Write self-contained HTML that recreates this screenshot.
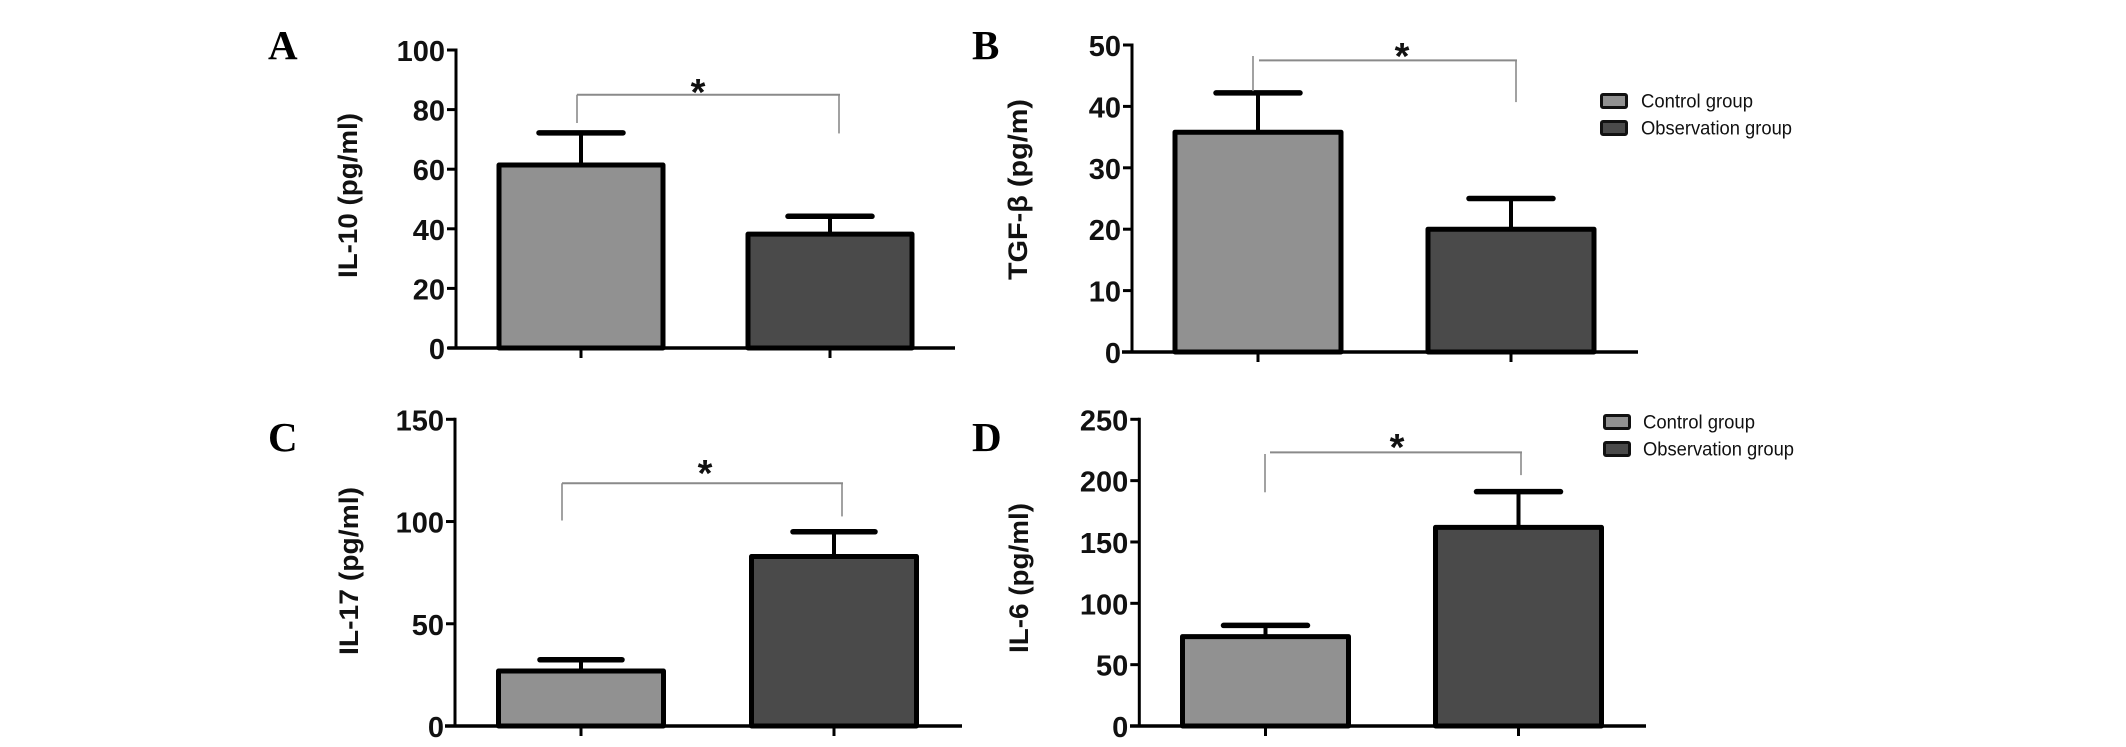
<!DOCTYPE html>
<html lang="en">
<head>
<meta charset="utf-8">
<title>Cytokine levels by group</title>
<style>
html,body{margin:0;padding:0;background:#fff;width:2126px;height:747px;overflow:hidden}
svg{display:block}
text{font-family:"Liberation Sans",sans-serif}
</style>
</head>
<body>
<svg id="figure" width="2126" height="747" viewBox="0 0 2126 747" xmlns="http://www.w3.org/2000/svg"></svg>
<script>
const categories = ['Control group', 'Observation group'];

const il10Values = [61.4, 38.2];
const il10ErrorTops = [72.2, 44.2];
const il10Ticks = [0, 20, 40, 60, 80, 100];

const tgfValues = [35.8, 20];
const tgfErrorTops = [42.2, 25];
const tgfTicks = [0, 10, 20, 30, 40, 50];

const il17Values = [26.9, 82.9];
const il17ErrorTops = [32.4, 95];
const il17Ticks = [0, 50, 100, 150];

const il6Values = [72.9, 161.9];
const il6ErrorTops = [82, 191];
const il6Ticks = [0, 50, 100, 150, 200, 250];

/* significance brackets, in axis units: level, left-arm end, right-arm end */
const il10Bracket = [85, 75.5, 72];
const tgfBracket = [47.5, 42.5, 40.7];
const il17Bracket = [118.7, 100.5, 102.5];
const il6Bracket = [223, 190.5, 204.5];

const barFills = ['#919191', '#4a4a4a'];

const panels = [
  {id:'a', letter:'A', lx:268, ly:59, title:'IL-10 (pg/ml)', tx:348, tyTop:113, tyBot:278,
   values:il10Values, errs:il10ErrorTops, ticks:il10Ticks, bracket:il10Bracket,
   axisX:456, y0:348, yTop:50, baseL:448, baseR:955, c:[581,830], w:[169,169], cap:88,
   brX:[577,840], brSplit:false, star:[698,105]},
  {id:'b', letter:'B', lx:972, ly:59, title:'TGF-β (pg/m)', tx:1018, tyTop:99, tyBot:280,
   values:tgfValues, errs:tgfErrorTops, ticks:tgfTicks, bracket:tgfBracket,
   axisX:1132, y0:352, yTop:45, baseL:1122, baseR:1638, c:[1258,1511], w:[171,171], cap:88,
   brX:[1259,1517], brSplit:[1253,56], star:[1402,69],
   legend:{sx:1600, y:[93,120], tx:1641, lens:[112,151]}},
  {id:'c', letter:'C', lx:268, ly:451, title:'IL-17 (pg/ml)', tx:349, tyTop:487, tyBot:655,
   values:il17Values, errs:il17ErrorTops, ticks:il17Ticks, bracket:il17Bracket,
   axisX:455, y0:726, yTop:419.3, baseL:445, baseR:962, c:[581,834], w:[170,170], cap:86,
   brX:[562,843], brSplit:false, star:[705,486]},
  {id:'d', letter:'D', lx:972, ly:451, title:'IL-6 (pg/ml)', tx:1019, tyTop:503, tyBot:653,
   values:il6Values, errs:il6ErrorTops, ticks:il6Ticks, bracket:il6Bracket,
   axisX:1139.3, y0:726, yTop:419.3, baseL:1130, baseR:1646, c:[1265.5,1518.5], w:[171,171], cap:88,
   brX:[1270,1522], brSplit:[1265,454], star:[1397,460],
   legend:{sx:1603, y:[414,441], tx:1643, lens:[112,151]}}
];

const svg = document.getElementById('figure');
const NS = 'http://www.w3.org/2000/svg';
function make(parent, tag, attrs, txt){
  const el = document.createElementNS(NS, tag);
  for (const k in attrs) el.setAttribute(k, attrs[k]);
  if (txt !== undefined) el.textContent = txt;
  parent.appendChild(el);
  return el;
}

panels.forEach(function(p){
  const maxTick = p.ticks[p.ticks.length - 1];
  const yScale = function(v){ return p.y0 - (v / maxTick) * (p.y0 - p.yTop); };
  const xScale = function(i){ return p.c[i]; };

  const g = make(svg, 'g', {});
  
  

  const letter = make(g, 'text', {x:p.lx, y:p.ly, 'font-size':41, 'font-weight':'bold', fill:'#000', style:'font-family:"Liberation Serif",serif'}, p.letter);
  
  

  const midY = (p.tyTop + p.tyBot) / 2;
  const title = make(g, 'text', {x:0, y:0, 'font-size':26.5, 'font-weight':'bold', fill:'#111', 'text-anchor':'middle',
    textLength:p.tyBot - p.tyTop, lengthAdjust:'spacingAndGlyphs',
    transform:'translate(' + (p.tx + 9) + ',' + midY + ') rotate(-90)'}, p.title);
  
  

  /* bars */
  p.values.forEach(function(v, i){
    const cx = xScale(i), top = yScale(v), err = yScale(p.errs[i]);
    const stem = make(g, 'line', {x1:cx, x2:cx, y1:err, y2:top, stroke:'#000', 'stroke-width':4});
    
    
    const cap = make(g, 'line', {x1:cx - p.cap / 2 + 2, x2:cx + p.cap / 2 - 2, y1:err, y2:err, stroke:'#000', 'stroke-width':5.5, 'stroke-linecap':'round'});
    
    
    const inset = 2.5;
    const bar = make(g, 'rect', {x:cx - p.w[i] / 2 + inset, y:top, width:p.w[i] - 2 * inset, height:p.y0 - top,
      fill:barFills[i], stroke:'#000', 'stroke-width':5, 'stroke-linejoin':'round'});
    
    
    const tick = make(g, 'line', {x1:cx, x2:cx, y1:p.y0, y2:p.y0 + 10, stroke:'#000', 'stroke-width':3});
    
    
  });

  /* axes */
  const yAxis = make(g, 'line', {x1:p.axisX, x2:p.axisX, y1:p.yTop - 1.5, y2:p.y0 + 1.5, stroke:'#000', 'stroke-width':3});
  
  
  const xAxis = make(g, 'line', {x1:p.baseL, x2:p.baseR, y1:p.y0, y2:p.y0, stroke:'#000', 'stroke-width':3.5});
  
  

  p.ticks.forEach(function(t){
    const y = yScale(t);
    const mark = make(g, 'line', {x1:p.axisX - 9, x2:p.axisX, y1:y, y2:y, stroke:'#000', 'stroke-width':3});
    
    
    const label = make(g, 'text', {x:p.axisX - 11, y:y + 11, 'font-size':29, 'font-weight':'bold', fill:'#111', 'text-anchor':'end'}, String(t));
    
    
  });

  /* significance bracket */
  const level = yScale(p.bracket[0]);
  const leftEnd = yScale(p.bracket[1]);
  const rightEnd = yScale(p.bracket[2]);
  const bracketColor = '#8a8a8a';
  const topLine = make(g, 'line', {x1:p.brX[0], x2:p.brX[1], y1:level, y2:level, stroke:bracketColor, 'stroke-width':2});
  
  
  const lx = p.brSplit ? p.brSplit[0] : p.brX[0];
  const ly = p.brSplit ? p.brSplit[1] : level;
  const leftArm = make(g, 'line', {x1:lx, x2:lx, y1:ly, y2:leftEnd, stroke:bracketColor, 'stroke-width':1.6});
  
  
  const rightArm = make(g, 'line', {x1:p.brX[1] - 1, x2:p.brX[1] - 1, y1:level, y2:rightEnd, stroke:bracketColor, 'stroke-width':1.6});
  
  
  const star = make(g, 'text', {x:p.star[0], y:p.star[1], 'font-size':38, 'font-weight':'bold', fill:'#111', 'text-anchor':'middle'}, '*');
  
  

  /* legend */
  if (p.legend) {
    categories.forEach(function(name, i){
      const swatch = make(g, 'rect', {x:p.legend.sx + 1.5, y:p.legend.y[i] + 1.5, width:25, height:13, rx:1.5,
        fill:barFills[i], stroke:'#111', 'stroke-width':3});
      
      
      const entry = make(g, 'text', {x:p.legend.tx, y:p.legend.y[i] + 14.5, 'font-size':19.5, fill:'#111',
        textLength:p.legend.lens[i], lengthAdjust:'spacingAndGlyphs'}, name);
      
      
    });
  }
});
</script>
</body>
</html>
